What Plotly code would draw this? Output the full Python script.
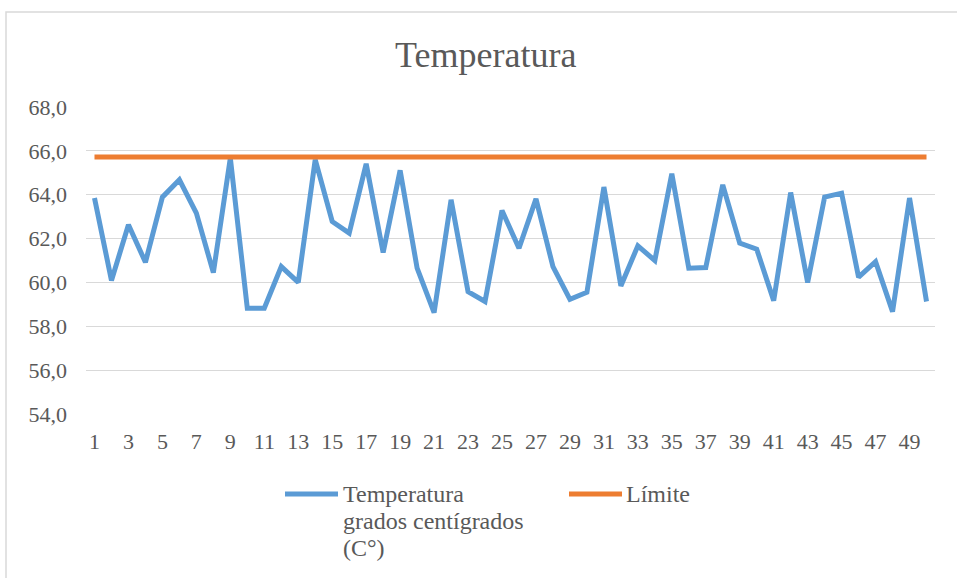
import plotly.graph_objects as go

# Data
dias = list(range(1, 51))
temperatura = [63.85, 60.09, 62.63, 60.92, 63.89, 64.68, 63.16, 60.45, 65.67, 58.82,
               58.82, 60.72, 60.00, 65.60, 62.78, 62.25, 65.41, 61.36, 65.11, 60.65,
               58.62, 63.77, 59.58, 59.13, 63.28, 61.56, 63.81, 60.72, 59.23, 59.55,
               64.35, 59.84, 61.67, 61.00, 64.96, 60.65, 60.68, 64.45, 61.79, 61.52,
               59.17, 64.10, 60.00, 63.89, 64.07, 60.24, 60.95, 58.67, 63.85, 59.13]
limite = [65.72] * 50
xtick_vals = [1, 3, 5, 7, 9, 11, 13, 15, 17, 19, 21, 23, 25, 27, 29, 31, 33, 35, 37, 39,
              41, 43, 45, 47, 49]
ytick_vals = [54, 56, 58, 60, 62, 64, 66, 68]

BLUE = "#5B9BD5"
ORANGE = "#ED7D31"
TXT = "#595959"
GRID = "#D9D9D9"
FONT = "Times New Roman, Liberation Serif, Tinos, serif"

# plot area in pixels
W, H = 957, 578
L, R, T, B = 86, 935, 107, 414
pw, ph = R - L, B - T


def px(x):
    return (x - L) / pw


def py(y):
    return (B - y) / ph


fig = go.Figure()
fig.add_trace(go.Scatter(x=dias, y=temperatura, mode="lines",
                         name="Temperatura grados centígrados (C°)",
                         line=dict(color=BLUE, width=5)))
fig.add_trace(go.Scatter(x=dias, y=limite, mode="lines", name="Límite",
                         line=dict(color=ORANGE, width=5)))

shapes = [
    dict(type="rect", xref="paper", yref="paper", x0=px(6), x1=px(962), y0=py(583), y1=py(12),
         line=dict(color=GRID, width=1.5), fillcolor="rgba(0,0,0,0)", layer="below"),
    dict(type="line", xref="paper", yref="paper", x0=px(285), x1=px(338), y0=py(494), y1=py(494),
         line=dict(color=BLUE, width=5)),
    dict(type="line", xref="paper", yref="paper", x0=px(569), x1=px(622), y0=py(494), y1=py(494),
         line=dict(color=ORANGE, width=5)),
]

annots = [
    dict(text="Temperatura", x=px(485), y=py(55), xref="paper", yref="paper",
         showarrow=False, xanchor="center", yanchor="middle",
         font=dict(family=FONT, size=36, color=TXT)),
]
legend_lines = [("Temperatura", 343, 494), ("grados centígrados", 343, 521), ("(C°)", 343, 548),
                ("Límite", 626, 494)]
for txt, xx, yy in legend_lines:
    annots.append(dict(text=txt, x=px(xx), y=py(yy), xref="paper", yref="paper",
                       showarrow=False, xanchor="left", yanchor="middle", xshift=-2,
                       font=dict(family=FONT, size=24, color=TXT)))

fig.update_layout(
    width=W, height=H,
    margin=dict(l=L, r=W - R, t=T, b=H - B, pad=0),
    paper_bgcolor="white", plot_bgcolor="white",
    showlegend=False,
    separators=",.",
    font=dict(family=FONT, size=22, color=TXT),
    shapes=shapes, annotations=annots,
    xaxis=dict(range=[0.5, 50.5], tickvals=xtick_vals, showgrid=False, zeroline=False,
               showline=False, ticks="", ticklabelstandoff=12,
               tickfont=dict(family=FONT, size=22, color=TXT)),
    yaxis=dict(range=[54, 68], tickvals=ytick_vals, tickformat=".1f", showgrid=True,
               gridcolor=GRID, gridwidth=1.3, zeroline=False, showline=False, ticks="",
               ticklabelstandoff=18, tickfont=dict(family=FONT, size=22, color=TXT)),
)

fig.write_html("out.html", config={"displayModeBar": False},
               post_script="document.body.style.margin='0';document.body.style.padding='0';")
